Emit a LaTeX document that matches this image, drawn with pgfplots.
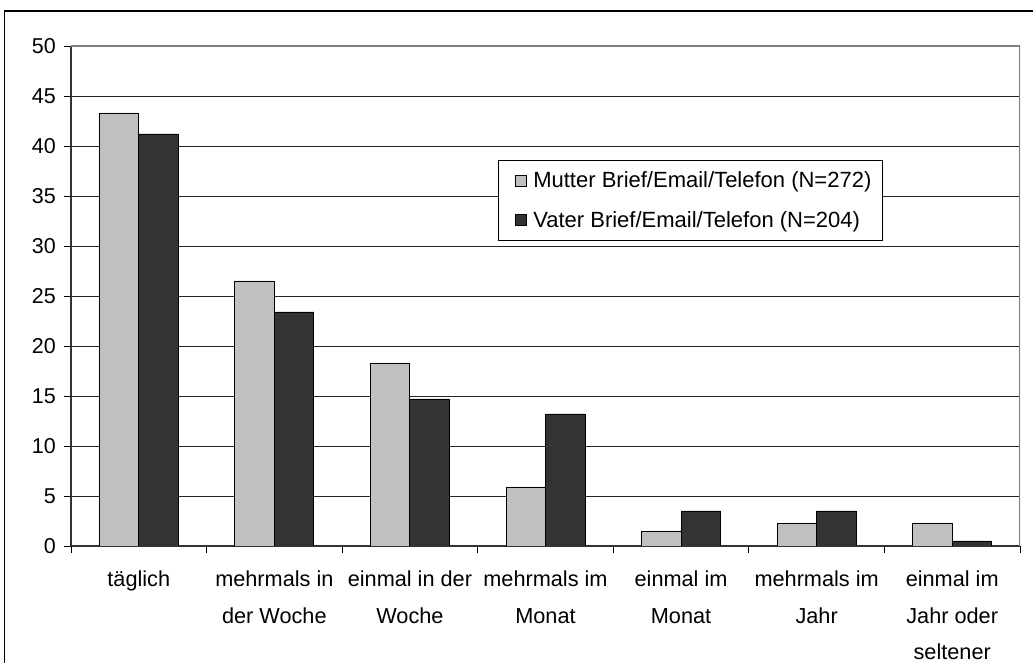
\documentclass[border=0pt]{standalone}
\usepackage{fontspec}
\setmainfont{Liberation Sans}
\usepackage{pgfplots}
\pgfplotsset{compat=1.18}
\definecolor{mgray}{RGB}{192,192,192}
\definecolor{vgray}{RGB}{51,51,51}
\begin{document}
\begin{tikzpicture}[x=1pt,y=1pt]
\useasboundingbox (0,0) rectangle (1033,663);
\draw[line width=1.3pt] (4.5,-20) -- (4.5,652) -- (1050,652);
\begin{axis}[
  at={(71pt,117pt)}, anchor=south west,
  width=949pt, height=500pt, scale only axis,
  xmin=-0.5, xmax=6.5, ymin=0, ymax=50,
  ytick={0,5,...,50},
  ymajorgrids, grid style={black!85, line width=0.9pt},
  axis lines=left, axis line style={-, black!80, line width=1.2pt},
  xtick={-0.5,0.5,...,6.5}, xticklabels={},
  extra x ticks={0,1,2,3,4,5,6},
  extra x tick style={major tick length=0pt, grid=none},
  extra x tick labels={t\"aglich, {mehrmals in\\der Woche}, {einmal in der\\Woche}, {mehrmals im\\Monat}, {einmal im\\Monat}, {mehrmals im\\Jahr}, {einmal im\\Jahr oder\\seltener}},
  xticklabel style={anchor=north, inner sep=0pt, yshift=-25pt, align=center, font=\fontsize{21.7}{36.2}\selectfont},
  yticklabel style={anchor=east, inner sep=0pt, xshift=-8pt, font=\fontsize{21.5}{24}\selectfont},
  /pgf/number format/assume math mode=true,
  tick align=outside, major tick length=7pt,
  tick style={black, line width=0.9pt},
  ybar=0pt, bar width=39.5pt,
  legend style={at={(rel axis cs:0.4499,0.772)}, anchor=north west, draw=black, line width=0.9pt, fill=white,
    font=\fontsize{22}{24}\selectfont, row sep=18pt, inner xsep=9pt, inner ysep=9.5pt},
  legend cell align=left,
  legend image code/.code={\path (0pt,0pt) (23pt,0pt); \draw[#1, draw=black, line width=0.8pt] (8pt,-5.5pt) rectangle (19pt,5.5pt);},
]
\addplot[fill=mgray, draw=black, line width=0.9pt] coordinates {(0,43.3) (1,26.5) (2,18.3) (3,5.9) (4,1.5) (5,2.3) (6,2.3)};
\addplot[fill=vgray, draw=black, line width=0.9pt] coordinates {(0,41.2) (1,23.4) (2,14.7) (3,13.2) (4,3.5) (5,3.5) (6,0.5)};
\legend{Mutter Brief/Email/Telefon (N=272), Vater Brief/Email/Telefon (N=204)}
\draw[gray, line width=1.3pt] (rel axis cs:0,1) -- (rel axis cs:1,1) -- (rel axis cs:1,0);
\end{axis}
\end{tikzpicture}
\end{document}
